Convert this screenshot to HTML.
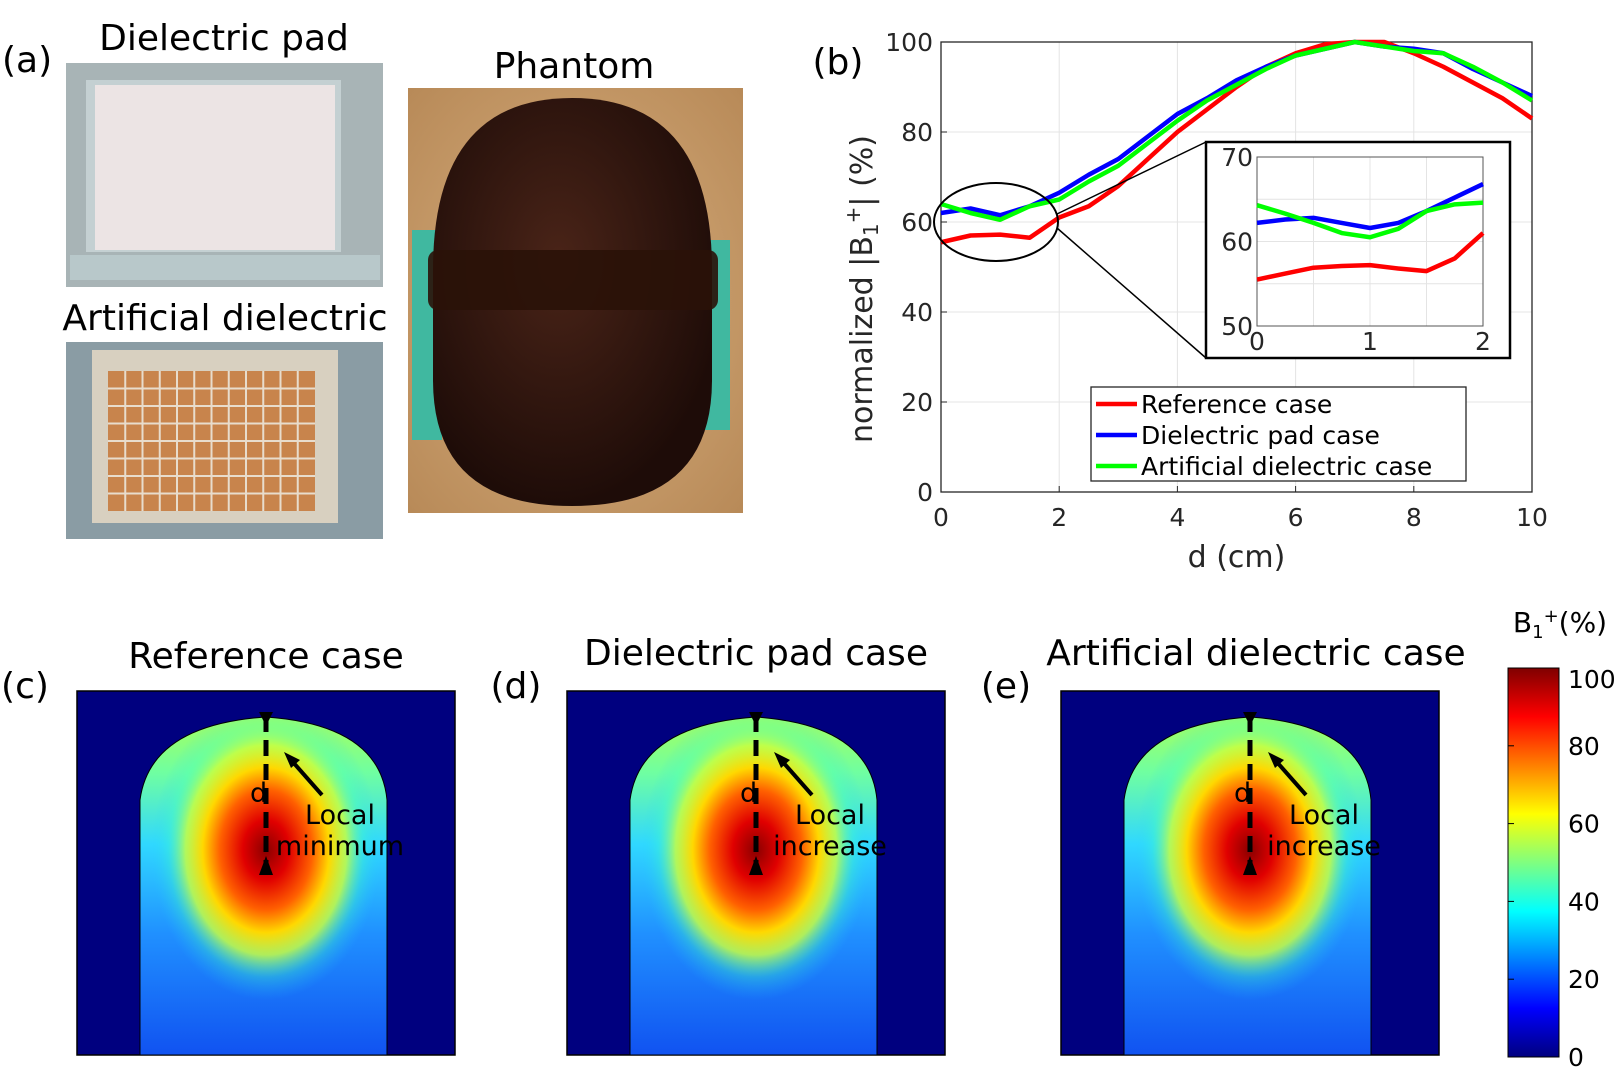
<!DOCTYPE html>
<html><head><meta charset="utf-8">
<style>
html,body{margin:0;padding:0;background:#fff;}
svg{display:block;font-family:"DejaVu Sans","Liberation Sans",sans-serif;}
</style></head>
<body>
<svg id="fig" width="1618" height="1091" viewBox="0 0 1618 1091" xmlns="http://www.w3.org/2000/svg">
<defs>
  <linearGradient id="jet" x1="0" y1="1" x2="0" y2="0">
    <stop offset="0" stop-color="#00007f"/><stop offset="0.125" stop-color="#0000ff"/>
    <stop offset="0.375" stop-color="#00ffff"/><stop offset="0.625" stop-color="#ffff00"/>
    <stop offset="0.875" stop-color="#ff0000"/><stop offset="1" stop-color="#7f0000"/>
  </linearGradient>
  <linearGradient id="base" x1="0" y1="0" x2="0" y2="1">
    <stop offset="0" stop-color="#b8ff48"/><stop offset="0.2" stop-color="#70ffa0"/>
    <stop offset="0.4" stop-color="#30d8ff"/><stop offset="0.65" stop-color="#2090ff"/>
    <stop offset="1" stop-color="#1050f0"/>
  </linearGradient>
  <radialGradient id="hot" cx="0.5" cy="0.5" r="0.5">
    <stop offset="0" stop-color="#8a0000"/><stop offset="0.2" stop-color="#e00000"/>
    <stop offset="0.4" stop-color="#ff6000"/><stop offset="0.55" stop-color="#ffd800"/>
    <stop offset="0.7" stop-color="#c8ff40" stop-opacity="0.85"/><stop offset="0.85" stop-color="#40ffc0" stop-opacity="0.3"/>
    <stop offset="1" stop-color="#20d0ff" stop-opacity="0"/>
  </radialGradient>
  <clipPath id="shape"><path d="M140 800 Q150 725 266 717 Q380 725 387 800 L387 1055 L140 1055 Z"/></clipPath>
  <radialGradient id="wood" cx="0.5" cy="0.5" r="0.7"><stop offset="0" stop-color="#d8b080"/><stop offset="1" stop-color="#b88a58"/></radialGradient>
  <radialGradient id="capsule" cx="0.45" cy="0.4" r="0.6"><stop offset="0" stop-color="#4a2418"/><stop offset="1" stop-color="#1e0c08"/></radialGradient>
</defs>

<text x="2" y="72" font-size="36">(a)</text>
<text x="224" y="50" font-size="36" text-anchor="middle">Dielectric pad</text>
<g>
  <rect x="66" y="63" width="317" height="224" fill="#a8b4b6"/>
  <rect x="86" y="80" width="255" height="172" fill="#c4d0d2"/>
  <rect x="95" y="85" width="240" height="165" fill="#ece4e4"/>
  <rect x="70" y="255" width="310" height="25" fill="#b8c8ca"/>
</g>
<text x="225" y="330" font-size="36" text-anchor="middle">Artificial dielectric</text>
<g>
  <rect x="66" y="342" width="317" height="197" fill="#8a9ca4"/>
  <rect x="92" y="350" width="246" height="173" fill="#d8d0c0"/>
  <rect x="108" y="371" width="207" height="140" fill="#c8844c"/>
  <g id="grid-lines" stroke="#e8dccc" stroke-width="2"></g>
</g>
<text x="574" y="78" font-size="36" text-anchor="middle">Phantom</text>
<g>
  <rect x="408" y="88" width="335" height="425" fill="url(#wood)"/>
  <rect x="412" y="230" width="30" height="210" fill="#40b8a0"/>
  <rect x="700" y="240" width="30" height="190" fill="#40b8a0"/>
  <path d="M433 270 Q433 98 572 98 Q712 98 712 270 L712 380 Q712 506 572 506 Q433 506 433 380 Z" fill="url(#capsule)"/>
  <rect x="428" y="250" width="290" height="60" rx="10" fill="#2a1208" opacity="0.9"/>
</g>

<text x="838" y="74" font-size="36" text-anchor="middle">(b)</text>
<g id="chart"></g>
<text transform="translate(872,289) rotate(-90)" font-size="30" text-anchor="middle" fill="#262626">normalized |B<tspan font-size="20" dy="6">1</tspan><tspan font-size="20" dy="-18">+</tspan><tspan dy="12">| (%)</tspan></text>

<text x="25" y="698" font-size="36" text-anchor="middle">(c)</text>
<text x="516" y="698" font-size="36" text-anchor="middle">(d)</text>
<text x="1006" y="698" font-size="36" text-anchor="middle">(e)</text>
<text x="266" y="668" font-size="36" text-anchor="middle">Reference case</text>
<text x="756" y="665" font-size="36" text-anchor="middle">Dielectric pad case</text>
<text x="1256" y="665" font-size="36" text-anchor="middle">Artificial dielectric case</text>
<g id="maps"></g>

<g>
  <rect x="1508" y="668" width="51" height="389" fill="url(#jet)" stroke="#000" stroke-width="1"/>
  <text x="1560" y="632" font-size="28" text-anchor="middle">B<tspan font-size="18" dy="6">1</tspan><tspan font-size="18" dy="-16">+</tspan><tspan dy="10">(%)</tspan></text>
  <g id="cbticks" font-size="25"></g>
</g>

<script>
const dist = [0,0.5,1,1.5,2,2.5,3,3.5,4,4.5,5,5.5,6,6.5,7,7.5,8,8.5,9,9.5,10];
const refCase = [55.5,57,57.2,56.5,61,63.5,68,74,80,85,90,94.5,97.5,99.5,100,100,97.5,94.5,91,87.5,83];
const padCase = [62,63,61.5,63.5,66.5,70.5,74,79,84,87.5,91.5,94.5,97,98.5,100,99,98.5,97.5,94,91,88];
const artCase = [64,62,60.5,63.5,65,69,72.5,77.5,82.5,87,90.5,94,97,98.5,100,99,98,97.5,94.5,91,87];
const insetDist = [0,0.25,0.5,0.75,1,1.25,1.5,1.75,2];
const insetRef = [55.5,56.2,56.9,57.1,57.2,56.8,56.5,58,61];
const insetPad = [62.2,62.6,62.8,62.2,61.6,62.2,63.6,65.2,66.8];
const insetArt = [64.3,63.3,62.2,61,60.5,61.5,63.6,64.4,64.6];
const xTicks = [0,2,4,6,8,10];
const yTicks = [0,20,40,60,80,100];
const insetXTicks = [0,1,2];
const insetYTicks = [50,60,70];
const cbTicks = [0,20,40,60,80,100];
const seriesNames = ["Reference case","Dielectric pad case","Artificial dielectric case"];
const seriesColors = ["#ff0000","#0000ff","#00ff00"];

const NS="http://www.w3.org/2000/svg";
function mk(tag, attrs, parent){const e=document.createElementNS(NS,tag);for(const k in attrs)e.setAttribute(k,attrs[k]);parent.appendChild(e);return e;}
const chart=document.getElementById('chart');
const L=941,R=1532,T=42,B=492;
const xs=v=>L+(v-0)/(10-0)*(R-L);
const ys=v=>B-(v-0)/(100-0)*(B-T);

xTicks.forEach(t=>{const g=mk('line',{x1:xs(t),x2:xs(t),y1:T,y2:B,stroke:'#e4e4e4','stroke-width':1},chart);
});
yTicks.forEach(t=>{const g=mk('line',{x1:L,x2:R,y1:ys(t),y2:ys(t),stroke:'#e4e4e4','stroke-width':1},chart);
});
const box=mk('rect',{x:L,y:T,width:R-L,height:B-T,fill:'none',stroke:'#262626','stroke-width':1.3},chart);

xTicks.forEach(t=>{
  mk('line',{x1:xs(t),x2:xs(t),y1:B,y2:B-6,stroke:'#262626'},chart);
  const tx=mk('text',{x:xs(t),y:B+34,'font-size':25,'text-anchor':'middle',fill:'#262626'},chart);tx.textContent=t;
  
});
yTicks.forEach(t=>{
  mk('line',{x1:L,x2:L+6,y1:ys(t),y2:ys(t),stroke:'#262626'},chart);
  const tx=mk('text',{x:L-8,y:ys(t)+9,'font-size':25,'text-anchor':'end',fill:'#262626'},chart);tx.textContent=t;
  
});
const xl=mk('text',{x:(L+R)/2,y:567,'font-size':30,'text-anchor':'middle',fill:'#262626'},chart);xl.textContent='d (cm)';


function line(xArr,yArr,fx,fy,color,parent,name){
  const p=mk('polyline',{points:xArr.map((x,i)=>fx(x)+','+fy(yArr[i])).join(' '),fill:'none',stroke:color,'stroke-width':4.5,'stroke-linejoin':'round'},parent);
  
}
line(dist,refCase,xs,ys,seriesColors[0],chart,'reference-case-line');
line(dist,padCase,xs,ys,seriesColors[1],chart,'dielectric-pad-case-line');
line(dist,artCase,xs,ys,seriesColors[2],chart,'artificial-dielectric-case-line');

const el=mk('ellipse',{cx:996,cy:222,rx:62,ry:39,fill:'none',stroke:'#000','stroke-width':2},chart);

mk('line',{x1:1057,y1:214,x2:1206,y2:142,stroke:'#000','stroke-width':1.5},chart);
mk('line',{x1:1057,y1:228,x2:1206,y2:358,stroke:'#000','stroke-width':1.5},chart);

const inset=mk('g',{},chart);

mk('rect',{x:1206,y:142,width:304,height:216,fill:'#fff',stroke:'#000','stroke-width':2.5},inset);
const iL=1257,iR=1483,iT=157,iB=326;
const ixs=v=>iL+v/2*(iR-iL);
const iys=v=>iB-(v-50)/20*(iB-iT);
[0.5,1,1.5].forEach(t=>mk('line',{x1:ixs(t),x2:ixs(t),y1:iT,y2:iB,stroke:'#e4e4e4'},inset));
[55,60,65].forEach(t=>mk('line',{x1:iL,x2:iR,y1:iys(t),y2:iys(t),stroke:'#e4e4e4'},inset));
mk('rect',{x:iL,y:iT,width:iR-iL,height:iB-iT,fill:'none',stroke:'#555'},inset);
insetXTicks.forEach(t=>{const tx=mk('text',{x:ixs(t),y:iB+24,'font-size':25,'text-anchor':'middle',fill:'#262626'},inset);tx.textContent=t;
});
insetYTicks.forEach(t=>{const tx=mk('text',{x:iL-4,y:iys(t)+9,'font-size':25,'text-anchor':'end',fill:'#262626'},inset);tx.textContent=t;
});
line(insetDist,insetRef,ixs,iys,seriesColors[0],inset,'inset-reference-line');
line(insetDist,insetPad,ixs,iys,seriesColors[1],inset,'inset-pad-line');
line(insetDist,insetArt,ixs,iys,seriesColors[2],inset,'inset-artificial-line');

const lg=mk('g',{},chart);

mk('rect',{x:1091,y:387,width:375,height:94,fill:'#fff',stroke:'#262626','stroke-width':1.3},lg);
seriesNames.forEach((n,i)=>{
  const y=404+i*31;
  const sw=mk('line',{x1:1096,x2:1137,y1:y,y2:y,stroke:seriesColors[i],'stroke-width':4.5},lg);
  
  const tx=mk('text',{x:1141,y:y+9,'font-size':25,fill:'#000'},lg);tx.textContent=n;
  
});

const gl=document.getElementById('grid-lines');
for(let i=1;i<12;i++){mk('line',{x1:108+i*207/12,x2:108+i*207/12,y1:371,y2:511},gl);}
for(let j=1;j<8;j++){mk('line',{x1:108,x2:315,y1:371+j*140/8,y2:371+j*140/8},gl);}

const maps=document.getElementById('maps');
const offsets=[0,490,984];
const labels=[["Local","minimum"],["Local","increase"],["Local","increase"]];
const mapNames=['reference-case-map','dielectric-pad-case-map','artificial-dielectric-case-map'];
offsets.forEach((o,k)=>{
  const g=mk('g',{transform:'translate('+o+',0)'},maps);
  
  mk('rect',{x:77,y:691,width:378,height:364,fill:'#00007f',stroke:'#000','stroke-width':1.5},g);
  const c=mk('g',{'clip-path':'url(#shape)'},g);
  mk('rect',{x:130,y:700,width:270,height:360,fill:'url(#base)'},c);
  mk('ellipse',{cx:266,cy:850,rx:115,ry:150,fill:'url(#hot)'},c);
  mk('path',{d:'M140 800 Q150 725 266 717 Q380 725 387 800 L387 1055 L140 1055 Z',fill:'none',stroke:'#000','stroke-width':1},g);
  mk('line',{x1:266,x2:266,y1:716,y2:866,stroke:'#000','stroke-width':5,'stroke-dasharray':'16,8'},g);
  mk('path',{d:'M259 712 L273 712 L266 726 Z',fill:'#000'},g);
  mk('path',{d:'M259 875 L273 875 L266 856 Z',fill:'#000'},g);
  mk('line',{x1:322,y1:795,x2:292,y2:761,stroke:'#000','stroke-width':4},g);
  mk('path',{d:'M284 752 L300 760 L291 768 Z',fill:'#000'},g);
  const d=mk('text',{x:250,y:802,'font-size':27},g);d.textContent='d';
  const t1=mk('text',{x:340,y:824,'font-size':27,'text-anchor':'middle'},g);t1.textContent=labels[k][0];
  
  const t2=mk('text',{x:340,y:855,'font-size':27,'text-anchor':'middle'},g);t2.textContent=labels[k][1];
});

const cb=document.getElementById('cbticks');
cbTicks.forEach(t=>{const y=1057-t/100*389;
  mk('line',{x1:1508,x2:1514,y1:y,y2:y,stroke:'#000'},cb);
  const tx=mk('text',{x:1568,y:Math.min(Math.max(y+9,688),1066)},cb);tx.textContent=t;
  });
</script>
</svg>
</body></html>
